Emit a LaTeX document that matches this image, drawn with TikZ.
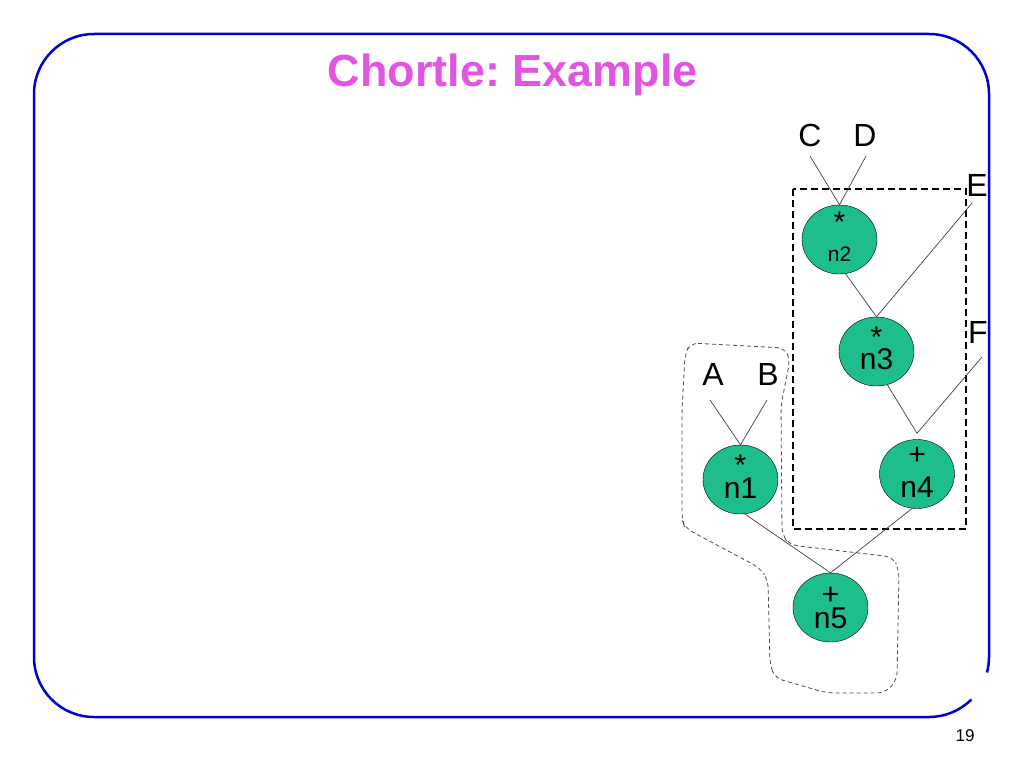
\documentclass[tikz,border=0pt]{standalone}
\usepackage{fontspec}
\setmainfont{Liberation Sans}
\usetikzlibrary{shapes.geometric}
\definecolor{titlepink}{RGB}{226,85,226}
\definecolor{frameblue}{RGB}{0,0,204}
\definecolor{gatefill}{RGB}{30,190,140}
\frenchspacing
\begin{document}
\begin{tikzpicture}[x=1pt, y=-1pt,
	gate/.style={ellipse, draw, fill=gatefill, minimum width=75pt, minimum height=69pt, inner sep=0pt, text height=#1, text depth=0pt, font=\fontsize{30}{30}\selectfont},
	gate/.default=40pt,
	opsym/.style={anchor=north, inner sep=0pt, yshift=-#1, font=\fontsize{30}{30}\selectfont},
	leaf/.style={font=\fontsize{32}{32}\selectfont, inner sep=0pt, anchor=base},
	wire/.style={line width=0.7pt, black!75}]
	\useasboundingbox (0,0) rectangle (1024,768);
	\draw[frameblue, line width=2.5pt] (929,657) ++(15:60) arc[start angle=15, end angle=0, radius=60] -- (989,94) arc[start angle=0, end angle=-90, radius=60] -- (94,34) arc[start angle=-90, end angle=-180, radius=60] -- (34,657) arc[start angle=180, end angle=90, radius=60] -- (929,717) arc[start angle=90, end angle=45, radius=60];
	\node[font=\bfseries\fontsize{45}{45}\selectfont, text=titlepink, anchor=base] (title) at (513,86) {Chortle: Example};
	\node[font=\fontsize{17}{17}\selectfont, anchor=base] (pagenum) at (965,741) {19};
	\draw[line width=2pt, dash pattern=on 7pt off 4pt] (793,189) rectangle (966,529);
	\draw[black!70, line width=0.8pt, dash pattern=on 4pt off 3pt, rounded corners=8pt] (690,343) -- (785,348) -- (790,360) -- (781,405) -- (782,535) -- (790,545) -- (893,557) -- (899,570) -- (897,680) -- (885,693) -- (827,693) -- (775,678) -- (770,665) -- (768,580) -- (760,568) -- (685,528) -- (682,520) -- (682,410) -- (685,355) -- cycle;
	\node[gate=44pt, font=\fontsize{21}{21}\selectfont, label={[opsym=7pt]north:*}] (n2) at (839.5,239.5) {n2};
	\node[gate=36pt, label={[opsym=10pt]north:*}] (n3) at (876.5,351.5) {n3};
	\node[gate=38pt, label={[opsym=10pt]north:*}] (n1) at (740.5,479.5) {n1};
	\node[gate=46pt, label={[opsym=8pt]north:+}] (n4) at (917,474) {n4};
	\node[gate=42pt, label={[opsym=14pt]north:+}] (n5) at (830.5,607.5) {n5};
	\node[leaf] (C) at (810,146) {C};
	\node[leaf] (D) at (865,146) {D};
	\node[leaf] (E) at (977,196) {E};
	\node[leaf] (F) at (978,343) {F};
	\node[leaf] (A) at (713,385) {A};
	\node[leaf] (B) at (768,385) {B};
	\coordinate (Cw) at (810,156);
	\coordinate (Dw) at (866,156);
	\coordinate (Ew) at (972,203);
	\coordinate (Fw) at (982,357);
	\coordinate (Aw) at (710,400);
	\coordinate (Bw) at (767,400);
	\draw[wire] (Cw) -- (n2.north) -- (Dw);
	\draw[wire] (Ew) -- (n3.north);
	\draw[wire] (n2.-80) -- (n3.north);
	\draw[wire] (Fw) -- ([yshift=6pt]n4.north);
	\draw[wire] (n3.-72) -- ([yshift=6pt]n4.north);
	\draw[wire] (Aw) -- (n1.north) -- (Bw);
	\draw[wire] (n1.-83) -- (n5.north) -- (n4.-98);
\end{tikzpicture}
\end{document}
